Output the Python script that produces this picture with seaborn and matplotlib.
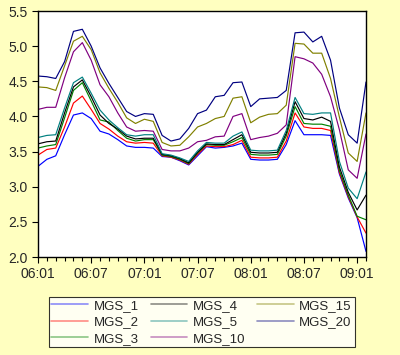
import numpy as np
import pandas as pd
import seaborn as sns
from matplotlib import pyplot as plt
from matplotlib.ticker import MultipleLocator, FormatStrFormatter

# monthly observations 2006:01 .. 2009:02
months = list(range(38))
tick_pos = [0, 6, 12, 18, 24, 30, 36]
tick_labels = ["06:01", "06:07", "07:01", "07:07", "08:01", "08:07", "09:01"]

mgs_1 = [3.29, 3.39, 3.44, 3.74, 4.02, 4.05, 3.97, 3.79, 3.75, 3.67,
         3.58, 3.56, 3.56, 3.55, 3.43, 3.42, 3.37, 3.31, 3.44, 3.57,
         3.55, 3.56, 3.58, 3.62, 3.39, 3.38, 3.38, 3.39, 3.60, 3.94,
         3.74, 3.74, 3.74, 3.73, 3.18, 2.84, 2.56, 2.08]
mgs_2 = [3.45, 3.53, 3.55, 3.85, 4.19, 4.29, 4.10, 3.90, 3.82, 3.72,
         3.64, 3.62, 3.63, 3.62, 3.44, 3.42, 3.38, 3.32, 3.46, 3.58,
         3.57, 3.57, 3.60, 3.66, 3.42, 3.41, 3.41, 3.42, 3.65, 4.05,
         3.85, 3.83, 3.83, 3.80, 3.20, 2.86, 2.57, 2.34]
mgs_3 = [3.55, 3.58, 3.60, 3.98, 4.37, 4.48, 4.22, 3.95, 3.92, 3.80,
         3.69, 3.65, 3.67, 3.67, 3.45, 3.43, 3.39, 3.33, 3.48, 3.60,
         3.59, 3.59, 3.64, 3.70, 3.46, 3.45, 3.45, 3.46, 3.72, 4.14,
         3.90, 3.89, 3.89, 3.86, 3.23, 2.88, 2.58, 2.53]
mgs_4 = [3.61, 3.64, 3.65, 4.05, 4.42, 4.52, 4.28, 4.02, 3.90, 3.82,
         3.72, 3.68, 3.69, 3.69, 3.46, 3.44, 3.40, 3.34, 3.49, 3.61,
         3.60, 3.60, 3.67, 3.74, 3.49, 3.48, 3.48, 3.49, 3.76, 4.21,
         3.97, 3.95, 3.99, 3.93, 3.28, 2.92, 2.67, 2.88]
mgs_5 = [3.70, 3.73, 3.74, 4.12, 4.48, 4.56, 4.33, 4.09, 3.95, 3.84,
         3.74, 3.72, 3.74, 3.74, 3.47, 3.45, 3.41, 3.36, 3.51, 3.63,
         3.62, 3.62, 3.72, 3.78, 3.52, 3.51, 3.51, 3.52, 3.80, 4.27,
         4.04, 4.03, 4.05, 4.05, 3.36, 2.98, 2.83, 3.21]
mgs_10 = [4.10, 4.13, 4.13, 4.55, 4.92, 5.05, 4.80, 4.45, 4.28, 4.05,
          3.85, 3.79, 3.80, 3.79, 3.53, 3.51, 3.51, 3.55, 3.64, 3.66,
          3.71, 3.72, 4.00, 4.04, 3.67, 3.70, 3.72, 3.76, 3.88, 4.85,
          4.82, 4.76, 4.60, 4.28, 3.81, 3.24, 3.12, 3.75]
mgs_15 = [4.42, 4.41, 4.37, 4.72, 5.07, 5.14, 4.95, 4.62, 4.40, 4.20,
          3.98, 3.90, 3.96, 3.93, 3.63, 3.58, 3.59, 3.71, 3.85, 3.90,
          3.97, 4.00, 4.26, 4.28, 3.91, 3.99, 4.03, 4.04, 4.16, 5.04,
          5.03, 4.90, 4.90, 4.54, 3.99, 3.48, 3.36, 4.05]
mgs_20 = [4.575, 4.565, 4.54, 4.78, 5.21, 5.24, 5.00, 4.69, 4.47, 4.27,
          4.07, 4.00, 4.04, 4.03, 3.73, 3.65, 3.68, 3.83, 4.04, 4.09,
          4.28, 4.30, 4.48, 4.49, 4.14, 4.25, 4.26, 4.27, 4.37, 5.19,
          5.20, 5.06, 5.14, 4.80, 4.12, 3.74, 3.62, 4.49]

names = ["MGS_1", "MGS_2", "MGS_3", "MGS_4", "MGS_5", "MGS_10", "MGS_15", "MGS_20"]
colors = ["#0000FF", "#FF0000", "#008000", "#000000",
          "#008080", "#800080", "#808000", "#000080"]
series = [mgs_1, mgs_2, mgs_3, mgs_4, mgs_5, mgs_10, mgs_15, mgs_20]

# long form table for seaborn
df = pd.concat([pd.DataFrame({"month": months, "value": s, "series": n})
                for n, s in zip(names, series)], ignore_index=True)

sns.set_style("white")
plt.rcParams["font.family"] = ["Liberation Sans", "DejaVu Sans"]

bg = "#FFFFC0"
fig = plt.figure(figsize=(4, 3.55), dpi=100, facecolor=bg)
ax = fig.add_axes([0.095, 0.276, 0.82, 0.693])

sns.lineplot(data=df, x="month", y="value", hue="series", hue_order=names,
             palette=dict(zip(names, colors)), linewidth=0.85, ax=ax)

ax.set_xlim(0, 37)
ax.set_ylim(2.0, 5.5)
ax.set_xticks(tick_pos)
ax.set_xticklabels(tick_labels)
ax.xaxis.set_minor_locator(MultipleLocator(1))
ax.yaxis.set_major_locator(MultipleLocator(0.5))
ax.yaxis.set_major_formatter(FormatStrFormatter("%.1f"))
ax.set_xlabel("")
ax.set_ylabel("")
ax.tick_params(axis="both", which="major", labelsize=10, length=4,
               width=0.8, color="black", direction="out", bottom=True, left=True)
ax.tick_params(axis="x", which="minor", length=3, width=0.8, color="black",
               direction="out", bottom=True)
for sp in ax.spines.values():
    sp.set_color("black")
    sp.set_linewidth(1.0)

sns.move_legend(ax, "upper center", bbox_to_anchor=(0.504, 0.182),
                bbox_transform=fig.transFigure, ncol=3, title=None,
                frameon=True, fontsize=9.5, handlelength=2.8,
                columnspacing=0.9, labelspacing=0.32, borderpad=0.2,
                handletextpad=0.4)
leg = ax.get_legend()
leg.get_frame().set_edgecolor("black")
leg.get_frame().set_linewidth(0.8)
leg.get_frame().set_boxstyle("square", pad=0)
for line in leg.get_lines():
    line.set_alpha(0.45)
    line.set_linewidth(1.2)

fig.savefig("out.png", dpi=100, facecolor=bg)
